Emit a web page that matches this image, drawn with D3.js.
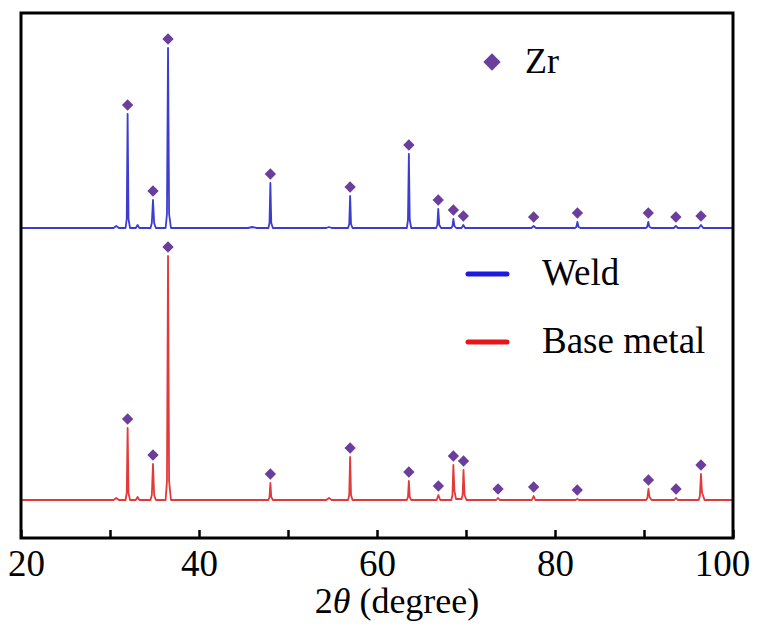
<!DOCTYPE html>
<html>
<head>
<meta charset="utf-8">
<script src="https://cdn.jsdelivr.net/npm/d3@7/dist/d3.min.js"></script>
<style>
  html, body { margin: 0; padding: 0; background: #fff; }
  svg { display: block; }
</style>
</head>
<body>
<svg id="chart" width="759" height="629"></svg>
<script>
// ---- data ----
const xTicks = [20, 30, 40, 50, 60, 70, 80, 90, 100];
const xTickLabels = ["20", "", "40", "", "60", "", "80", "", "100"];
const seriesNames = ["Weld", "Base metal"];
const phaseLabel = "Zr";
const xTitle = ["2", "θ", " (degree)"];

// Weld pattern: [2θ, intensity a.u.]
const weldPattern = [
  [20,1],[30.4,1],[30.7,3],[31.0,1],
  [31.75,1],[31.88,10],[31.98,115],[32.08,10],[32.25,1],
  [32.9,1],[33.1,4],[33.3,1],
  [34.55,1],[34.7,6],[34.83,29],[34.96,6],[35.15,1],
  [36.25,1],[36.4,15],[36.52,181],[36.64,15],[36.85,1],
  [45.5,1],[46.0,2],[46.5,1],
  [47.8,1],[47.92,6],[48.02,46],[48.12,6],[48.3,1],
  [54.3,1],[54.6,2],[54.9,1],
  [56.75,1],[56.88,5],[56.98,33],[57.08,5],[57.25,1],
  [63.35,1],[63.48,9],[63.58,75],[63.68,9],[63.85,1],
  [66.65,1],[66.78,4],[66.88,20],[67.0,4],[67.2,1],
  [68.35,1],[68.48,3],[68.58,10],[68.7,3],[68.9,1],
  [69.5,1],[69.7,4],[69.9,1],
  [77.35,1],[77.6,3],[77.85,1],
  [82.25,1],[82.4,2],[82.52,7],[82.65,2],[82.85,1],
  [90.2,1],[90.35,2],[90.48,7],[90.62,2],[90.85,1],
  [93.35,1],[93.58,3],[93.8,1],
  [96.15,1],[96.4,4],[96.65,1],
  [100,1]
];

// Base metal pattern: [2θ, intensity a.u.]
const basePattern = [
  [20,1],[30.4,1],[30.7,3],[31.0,1],
  [31.75,1],[31.88,8],[31.98,73],[32.08,8],[32.25,1],
  [32.9,1],[33.1,4],[33.3,1],
  [34.55,1],[34.7,6],[34.83,37],[34.96,6],[35.15,1],
  [36.25,1],[36.4,20],[36.52,245],[36.64,20],[36.85,1],
  [47.8,1],[47.92,4],[48.02,18],[48.12,4],[48.3,1],
  [54.3,1],[54.6,3],[54.9,1],
  [56.75,1],[56.88,6],[56.98,44],[57.08,6],[57.25,1],
  [63.35,1],[63.48,4],[63.58,20],[63.68,4],[63.85,1],
  [66.7,1],[66.9,6],[67.1,1],
  [68.35,1],[68.48,6],[68.58,36],[68.7,10],[68.88,2],
  [69.5,2],[69.62,6],[69.72,31],[69.84,6],[70.05,1],
  [73.4,1],[73.6,3],[73.8,1],
  [77.4,1],[77.6,5],[77.8,1],
  [82.3,1],[82.5,2],[82.7,1],
  [90.25,1],[90.38,3],[90.5,12],[90.62,4],[90.85,1],
  [93.4,1],[93.6,3],[93.8,1],
  [96.15,1],[96.28,5],[96.4,27],[96.52,8],[96.62,6],[96.8,1],
  [99.9,1],[100,2]
];

// Zr reflections marked with diamonds (2θ)
const weldMarks = [31.98, 34.83, 36.52, 48.02, 56.98, 63.58, 66.88, 68.58, 69.7, 77.6, 82.52, 90.48, 93.58, 96.4];
const baseMarks = [31.98, 34.83, 36.52, 48.02, 56.98, 63.58, 66.9, 68.58, 69.72, 73.6, 77.6, 82.5, 90.5, 93.6, 96.4];

// vertical stacking offsets (a.u.)
const weldOffset = 309;
const baseOffset = 37;

// ---- drawing ----
const FONT = "Times New Roman, Liberation Serif, serif";
const svg = d3.select("#chart");
const mLeft = 21, mRight = 733, mTop = 13, mBottom = 538;

const x = d3.scaleLinear().domain([20, 100]).range([mLeft, mRight]);
const y = d3.scaleLinear().domain([0, 525]).range([mBottom, mTop]);

const colors = { weld: "#3c3cd2", base: "#e23a3a", mark: "#6b3d9c",
                 legWeld: "#1a1ae0", legBase: "#e41818" };

const lineGen = offset => d3.line()
  .x(d => x(d[0]))
  .y(d => y(d[1] + offset));

svg.append("path").datum(weldPattern)
  .attr("d", lineGen(weldOffset))
  .attr("fill", "none").attr("stroke", colors.weld)
  .attr("stroke-width", 1.8).attr("stroke-linejoin", "round");

svg.append("path").datum(basePattern)
  .attr("d", lineGen(baseOffset))
  .attr("fill", "none").attr("stroke", colors.base)
  .attr("stroke-width", 1.8).attr("stroke-linejoin", "round");

// diamonds above peak tops
function peakTop(pattern, pos) {
  return d3.max(pattern.filter(d => Math.abs(d[0] - pos) < 0.3), d => d[1]);
}
const diamondSym = d3.symbol().type(d3.symbolSquare).size(64);
function drawMarks(marks, pattern, offset) {
  svg.append("g").selectAll("path").data(marks).join("path")
    .attr("d", diamondSym)
    .attr("fill", colors.mark)
    .attr("transform", d => `translate(${x(d)},${y(peakTop(pattern, d) + offset) - 9}) rotate(45)`);
}
drawMarks(weldMarks, weldPattern, weldOffset);
drawMarks(baseMarks, basePattern, baseOffset);

// x axis with inward ticks
const axis = d3.axisBottom(x)
  .tickValues(xTicks)
  .tickSizeInner(-8).tickSizeOuter(0)
  .tickPadding(12)
  .tickFormat((d, i) => xTickLabels[i]);
const gx = svg.append("g").attr("transform", `translate(0,${mBottom})`).call(axis)
  .attr("font-family", FONT).attr("font-size", 37);
gx.select(".domain").remove();
gx.selectAll(".tick line").attr("stroke", "#000").attr("stroke-width", 2.5);
gx.selectAll(".tick text")
  .attr("fill", "#000")
  .style("font-family", FONT)
  .style("font-size", "37px");
gx.selectAll(".tick text").filter((d, i) => i === 0).attr("dx", 5);
gx.selectAll(".tick text").filter((d, i) => i === xTicks.length - 1).attr("dx", -11);

// frame
svg.append("rect")
  .attr("x", mLeft).attr("y", mTop)
  .attr("width", mRight - mLeft).attr("height", mBottom - mTop)
  .attr("fill", "none").attr("stroke", "#000").attr("stroke-width", 3);

// x title
const titleText = svg.append("text")
  .attr("x", (mLeft + mRight) / 2 + 20).attr("y", 613)
  .attr("text-anchor", "middle")
  .style("font-family", FONT).style("font-size", "36px").attr("fill", "#000");
titleText.append("tspan").text(xTitle[0]);
titleText.append("tspan").style("font-style", "italic").text(xTitle[1]);
titleText.append("tspan").text(xTitle[2]);

// Zr legend
svg.append("path")
  .attr("d", d3.symbol().type(d3.symbolSquare).size(150))
  .attr("fill", colors.mark)
  .attr("transform", `translate(492,62) rotate(45)`);
svg.append("text").attr("x", 525).attr("y", 73)
  .style("font-family", FONT).style("font-size", "36px").attr("fill", "#000").text(phaseLabel);

// series legend
const legendItems = [
  { name: seriesNames[0], color: colors.legWeld, ly: 274, ty: 285 },
  { name: seriesNames[1], color: colors.legBase, ly: 342, ty: 353 }
];
const lg = svg.append("g").selectAll("g").data(legendItems).join("g");
lg.append("line")
  .attr("x1", 468).attr("x2", 507)
  .attr("y1", d => d.ly).attr("y2", d => d.ly)
  .attr("stroke", d => d.color).attr("stroke-width", 5)
  .attr("stroke-linecap", "round");
lg.append("text")
  .attr("x", 542).attr("y", d => d.ty)
  .style("font-family", FONT).style("font-size", "37px").attr("fill", "#000")
  .text(d => d.name);
</script>
</body>
</html>
